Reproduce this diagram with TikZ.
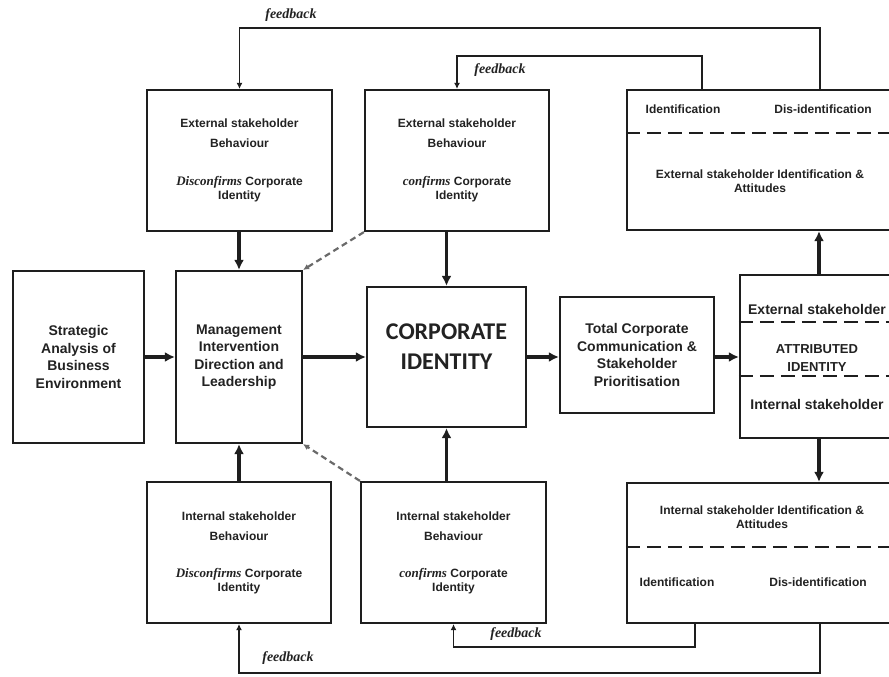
\documentclass[tikz,border=0pt]{standalone}
\usepackage{fontspec}
\setmainfont{Liberation Sans}
\newfontfamily\tmsfont{Liberation Serif}
\newfontfamily\calfont{Carlito}
\usetikzlibrary{arrows.meta,positioning}
\definecolor{cLine}{HTML}{1E1E1E}
\definecolor{cText}{HTML}{222222}
\definecolor{cDash}{HTML}{6A6A6A}

\begin{document}
\begin{tikzpicture}[
  x=1pt, y=-1pt, text=cText,
  blk/.style={draw=cLine, line width=2.2pt, align=center, inner sep=0pt},
  big/.style={font=\fontsize{14}{17.5}\selectfont\bfseries},
  sml/.style={font=\fontsize{12}{14}\selectfont\bfseries},
  lbl/.style={align=center, font=\fontsize{12}{14}\selectfont\bfseries},
  fbl/.style={font=\fontsize{14}{16}\selectfont\tmsfont\bfseries\itshape},
  ar/.style={-{Latex[length=10pt,width=10pt]}, draw=cLine, line width=3.4pt},
  fb/.style={-{Latex[length=6pt,width=6pt]}, draw=cLine, line width=1.8pt},
  sep/.style={draw=cLine, line width=2.8pt, dash pattern=on 14pt off 7pt},
  ard/.style={-{Latex[length=6pt,width=6pt]}, draw=cDash, line width=2.2pt,
              dash pattern=on 6pt off 4pt},
]
\path[use as bounding box, fill=white] (0,0) rectangle (889,677);

\newcommand{\confw}[1]{{\tmsfont\itshape\fontsize{13}{14}\selectfont #1}}

% ---------------------------------------------------------------- middle row
\node[blk, big, minimum width=131pt, minimum height=172pt] at (78.5,357) (strat)
  {Strategic\\Analysis of\\Business\\Environment};
\node[blk, big, minimum width=126pt, minimum height=172pt] at (239,357) (mgmt)
  {Management\\Intervention\\Direction and\\Leadership};
\node[blk, minimum width=159pt, minimum height=140pt] at (446.5,357) (corp) {};
\node[align=center, font=\fontsize{24}{30}\selectfont\calfont\bfseries] at (446.5,347) (corpT)
  {CORPORATE\\IDENTITY};
\node[blk, big, minimum width=154pt, minimum height=116pt] at (637,355) (total)
  {Total Corporate\\Communication \&\\Stakeholder\\Prioritisation};

% ---------------------------------------------------------------- behaviour boxes
\node[blk, sml, minimum width=185pt, minimum height=141pt] at (239.5,160.5) (extD)
  {External stakeholder\\[6pt]Behaviour\\[24pt]\confw{Disconfirms} Corporate\\Identity};
\node[blk, sml, minimum width=184pt, minimum height=141pt] at (457,160.5) (extC)
  {External stakeholder\\[6pt]Behaviour\\[24pt]\confw{confirms} Corporate\\Identity};
\node[blk, sml, minimum width=184pt, minimum height=141pt] at (239,552.5) (intD)
  {Internal stakeholder\\[6pt]Behaviour\\[23pt]\confw{Disconfirms} Corporate\\Identity};
\node[blk, sml, minimum width=185pt, minimum height=141pt] at (453.5,552.5) (intC)
  {Internal stakeholder\\[6pt]Behaviour\\[23pt]\confw{confirms} Corporate\\Identity};

% ---------------------------------------------------------------- right column
\node[blk, minimum width=268pt, minimum height=140pt] at (761,160) (topR) {};
\draw[sep] ([yshift=-44pt]topR.north west) -- ([yshift=-44pt]topR.north east);
\node[lbl] at (683,109) (topId) {Identification};
\node[lbl] at (823,109) (topDis) {Dis-identification};
\node[lbl] at (760,181) (topAtt) {External stakeholder Identification \&\\Attitudes};

\node[blk, minimum width=155pt, minimum height=163pt] at (817.5,356.5) (attr) {};
\draw[sep] ([yshift=-48pt]attr.north west) -- ([yshift=-48pt]attr.north east);
\draw[sep] ([yshift=-102pt]attr.north west) -- ([yshift=-102pt]attr.north east);
\node[big] at (817,309) (attrE) {External stakeholder};
\node[align=center, font=\fontsize{13}{18}\selectfont\bfseries] at (817,358) (attrT)
  {ATTRIBUTED\\IDENTITY};
\node[big] at (817,404) (attrI) {Internal stakeholder};

\node[blk, minimum width=270pt, minimum height=140pt] at (762,553) (botR) {};
\draw[sep] ([yshift=-65pt]botR.north west) -- ([yshift=-65pt]botR.north east);
\node[lbl] at (762,517) (botAtt) {Internal stakeholder Identification \&\\Attitudes};
\node[lbl] at (677,582) (botId) {Identification};
\node[lbl] at (818,582) (botDis) {Dis-identification};

% ---------------------------------------------------------------- arrows
\draw[ar] (strat.east) -- (mgmt.west);
\draw[ar] (mgmt.east) -- (corp.west);
\draw[ar] (corp.east) -- (total.west |- corp.east);
\draw[ar] (total.east |- corp.east) -- (attr.west |- corp.east);
\draw[ar] (mgmt.north |- extD.south) -- (mgmt.north);
\draw[ar] (mgmt.south |- intD.north) -- (mgmt.south);
\draw[ar] (corp.north |- extC.south) -- (corp.north);
\draw[ar] (corp.south |- intC.north) -- (corp.south);
\draw[ar] ([xshift=1.5pt]attr.north) -- ([xshift=1.5pt]attr.north |- topR.south);
\draw[ar] ([xshift=1.5pt]attr.south) -- ([xshift=1.5pt]attr.south |- botR.north);
\draw[ard] (extC.south west) -- (mgmt.north east);
\draw[ard] (intC.north west) -- (mgmt.south east);

% ---------------------------------------------------------------- feedback
\draw[fb] ([xshift=59pt]topR.north) -- ++(0,-61) -| (extD.north);
\draw[fb] ([xshift=-59pt]topR.north) -- ++(0,-33) -| (extC.north);
\draw[fb] ([xshift=-67pt]botR.south) -- ++(0,23) -| (intC.south);
\draw[fb] ([xshift=58pt]botR.south) -- ++(0,49) -| (intD.south);
\node[fbl] at (291,15) (fb1) {feedback};
\node[fbl] at (500,70) (fb2) {feedback};
\node[fbl] at (516,634) (fb3) {feedback};
\node[fbl] at (288,658) (fb4) {feedback};

\end{tikzpicture}
\end{document}
